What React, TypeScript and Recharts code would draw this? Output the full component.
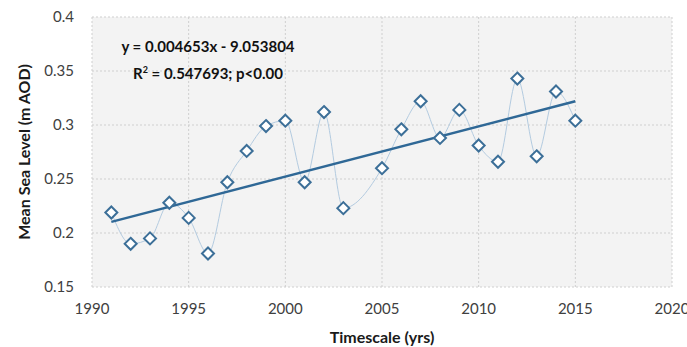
import {
  ComposedChart,
  XAxis,
  YAxis,
  CartesianGrid,
  Scatter,
  Line,
  Label,
} from 'recharts'

const years = [1991, 1992, 1993, 1994, 1995, 1996, 1997, 1998, 1999, 2000, 2001, 2002, 2003, 2005, 2006, 2007, 2008, 2009, 2010, 2011, 2012, 2013, 2014, 2015]
const seaLevel = [0.219, 0.19, 0.195, 0.228, 0.214, 0.181, 0.247, 0.276, 0.299, 0.304, 0.247, 0.312, 0.223, 0.26, 0.296, 0.322, 0.288, 0.314, 0.281, 0.266, 0.343, 0.271, 0.331, 0.304]
const xTicks = [1990, 1995, 2000, 2005, 2010, 2015, 2020]
const yTicks = [0.15, 0.2, 0.25, 0.3, 0.35, 0.4]
const slope = 0.004653
const intercept = -9.053804

const points = years.map((year, i) => ({ year, level: seaLevel[i] }))
const trend = [years[0], years[years.length - 1]].map((year) => ({
  year,
  fit: slope * year + intercept,
}))

const Diamond = (props: any) => {
  const { cx, cy } = props
  const r = 6
  return (
    <path
      d={`M${cx},${cy - r} L${cx + r},${cy} L${cx},${cy + r} L${cx - r},${cy} Z`}
      fill='#ffffff'
      stroke='#3c6f98'
      strokeWidth={2}
    />
  )
}

const tickStyle = { fontFamily: 'Lato, sans-serif', fontSize: 15, fill: '#404040' }
const titleStyle = { fontFamily: 'Lato, sans-serif', fontSize: 16, fontWeight: 700, fill: '#1a1a1a' }

const App = () => {
  return (
    <div style={{ position: 'absolute', left: 0, top: 0, width: 687, height: 347, background: '#fff' }}>
      <ComposedChart
        width={687}
        height={347}
        margin={{ top: 17, right: 15, left: 0, bottom: 0 }}
      >
        <CartesianGrid
          stroke='#cfcfcf'
          strokeDasharray='2 2'
          fill='#f3f3f3'
          horizontalValues={yTicks}
          verticalValues={xTicks}
        />
        <XAxis
          type='number'
          dataKey='year'
          domain={[1990, 2020]}
          ticks={xTicks}
          axisLine={false}
          tickLine={false}
          tick={tickStyle}
          tickMargin={10}
          height={60}
        >
          <Label value='Timescale (yrs)' position='insideBottom' offset={4} style={titleStyle} />
        </XAxis>
        <YAxis
          type='number'
          domain={[0.15, 0.4]}
          ticks={yTicks}
          axisLine={false}
          tickLine={false}
          tick={tickStyle}
          tickMargin={12}
          width={92}
          tickFormatter={(v: number) => String(Number(v.toFixed(2)))}
        >
          <Label
            value='Mean Sea Level (m AOD)'
            angle={-90}
            position='insideLeft'
            offset={24}
            style={{ ...titleStyle, textAnchor: 'middle' }}
          />
        </YAxis>
        <Line
          data={points}
          dataKey='level'
          type='monotone'
          stroke='#b3cbe0'
          strokeWidth={1}
          dot={false}
          isAnimationActive={false}
        />
        <Line
          data={trend}
          dataKey='fit'
          type='linear'
          stroke='#2f6896'
          strokeWidth={2.5}
          dot={false}
          isAnimationActive={false}
        />
        <Scatter
          data={points}
          dataKey='level'
          shape={Diamond}
          isAnimationActive={false}
        />
      </ComposedChart>
      <div
        style={{
          position: 'absolute',
          left: 98,
          top: 35,
          width: 220,
          textAlign: 'center',
          fontFamily: 'Lato, sans-serif',
          fontSize: 15,
          fontWeight: 700,
          lineHeight: '23px',
          color: '#111',
        }}
      >
        <div>y = 0.004653x - 9.053804</div>
        <div>
          R<sup style={{ fontSize: 9 }}>2</sup> = 0.547693; p&lt;0.00
        </div>
      </div>
    </div>
  )
}

export default App
